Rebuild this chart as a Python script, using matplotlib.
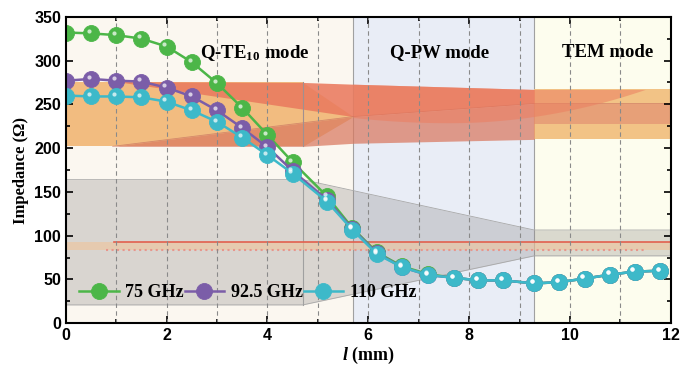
import matplotlib
matplotlib.use("Agg")
import matplotlib.pyplot as plt
import numpy as np
from matplotlib.transforms import offset_copy

plt.rcParams['mathtext.fontset'] = 'custom'
plt.rcParams['mathtext.rm'] = 'Liberation Serif:bold'
plt.rcParams['mathtext.it'] = 'Liberation Serif:italic:bold'
plt.rcParams['mathtext.bf'] = 'Liberation Serif:bold'

# data
length = [0, 0.5, 1, 1.5, 2, 2.5, 3, 3.5, 4, 4.5, 5.18, 5.68, 6.17, 6.67, 7.19,
          7.7, 8.18, 8.68, 9.29, 9.79, 10.29, 10.79, 11.28, 11.79]
z_75 = [332, 331, 329, 325, 316, 298, 274, 246, 215, 184, 145, 109, 81, 65, 56,
        52, 49, 49, 45.5, 47, 51, 55.5, 59, 60]
z_925 = [277, 279, 277, 276, 269, 259, 243, 223, 201, 174, 141, 108, 80, 64, 55,
         52, 49, 49, 45.5, 47, 51, 55.5, 59, 60]
z_110 = [260, 259, 259, 258, 253, 243, 230, 212, 192, 171, 139, 107, 79, 64, 55,
         52, 49, 49, 45.5, 47, 51, 55.5, 59, 60]
series = [("75 GHz", z_75, "#4CB648"), ("92.5 GHz", z_925, "#7B5DA8"),
          ("110 GHz", z_110, "#3DB9C9")]

regions = [(0, 5.7, "#FBF7F0", r"Q-TE$_{10}$ mode", 3.75),
           (5.7, 9.29, "#E9EDF6", "Q-PW mode", 7.42),
           (9.29, 12, "#FDFDEE", "TEM mode", 10.75)]

fig = plt.figure(figsize=(6.93, 3.68), dpi=100)
ax = fig.add_axes([0.095, 0.1215, 0.873, 0.833])

for x0, x1, c, lab, xt in regions:
    ax.axvspan(x0, x1, color=c, zorder=0, lw=0)
    ax.text(xt, 309, lab, ha='center', va='center', fontsize=13.5,
            fontfamily='Liberation Serif', fontweight='bold', zorder=6)
for xb in [5.7, 9.29]:
    ax.axvline(xb, color='#A0A0A0', lw=0.8, zorder=1)

# decorative schematic shapes (upper: impedance band, lower: gray taper)
ax.fill_between([0, 4.7], 202, 276, color='#F2BC80', lw=0, zorder=1)
ax.fill_between([4.7, 5.7], [202, 236], [275, 236], color='#F2BC80', lw=0, zorder=1)
ax.fill_between([1.0, 4.7, 5.7, 9.29], [276, 244.5, 236, 251], [276, 275, 273, 267],
                color='#EA7A5E', alpha=0.88, lw=0, zorder=1.2)
ax.fill_between([0.93, 4.7, 5.7, 9.29], [202, 202, 205.5, 210], [202, 228.8, 236, 251],
                color='#D9785F', alpha=0.72, lw=0, zorder=1.2)
ax.plot([0.93, 5.7, 9.29, 12], [202, 236, 251, 251], color='#C87060', lw=0.6, alpha=0.7, zorder=1.25)
ax.fill_between([9.29, 12], 210, 267, color='#F2C386', lw=0, zorder=1)
ax.fill_between([9.29, 12], 227.5, 250, color='#E08A70', alpha=0.6, lw=0, zorder=1.2)
cx = np.linspace(5.7, 11.49, 80)
cy = np.where(cx > 7.6, 229 + 38 * ((cx - 7.6) / 3.89) ** 2, 229 + 6 * ((7.6 - cx) / 1.9) ** 2)
ctop = np.where(cx < 9.29, 273 - 6 * (cx - 5.7) / 3.59, 267)
ax.fill_between(cx, np.minimum(cy, 267), ctop, color='#EC7E60', alpha=0.55, lw=0, zorder=1.3)
ax.plot([4.7, 4.7], [202, 275], color='#A09090', lw=0.8, zorder=1.4)

gray = (0.55, 0.53, 0.53)
ax.fill_between([0, 4.7, 9.29, 12], [21, 21, 77, 77], [164, 164, 106.5, 106.5],
                color=gray, alpha=0.3, lw=0, zorder=1)
ax.plot([0, 4.7, 9.29, 12], [164, 164, 106.5, 106.5], color='#A8A8A8', lw=0.6, zorder=1.1)
ax.plot([0, 4.7, 9.29, 12], [21, 21, 77, 77], color='#A8A8A8', lw=0.6, zorder=1.1)
ax.plot([4.7, 4.7], [21, 164], color='#A0A0A0', lw=0.8, zorder=1.1)
ax.fill_between([0, 12], 83.7, 93, color='#EFC39A', alpha=0.6, lw=0, zorder=1.5)
ax.plot([0.95, 12], [92.5, 92.5], color='#E2604E', lw=1.2, zorder=1.6)
ax.plot([0.79, 11.49], [84, 84], color='#E8968C', lw=1.5, ls=':', zorder=1.6)

# grid
for xg in range(1, 12):
    ax.axvline(xg, color='#8A8A8A', lw=0.8, ls=(0, (4, 3)), zorder=1.8)

hl = offset_copy(ax.transData, fig=fig, x=-1.6, y=1.6, units='points')
for lab, z, c in series:
    ax.plot(length, z, '-o', color=c, lw=1.8, ms=11.5, mec=c, mew=0.6,
            label=lab, zorder=3)
    ax.plot(length, z, 'o', color='white', ms=3, alpha=0.7, mew=0,
            transform=hl, zorder=3.1)

ax.set_xlim(0, 12)
ax.set_ylim(0, 350)
ax.set_xticks(range(0, 13, 2))
ax.set_xticks(range(0, 13), minor=True)
ax.set_yticks(range(0, 351, 50))
ax.set_yticks(range(0, 351, 25), minor=True)
ax.tick_params(which='both', direction='in', top=True, right=True, width=1.2)
ax.tick_params(which='major', length=5)
ax.tick_params(which='minor', length=3)
for t in ax.get_xticklabels() + ax.get_yticklabels():
    t.set_fontfamily('Liberation Sans')
    t.set_fontweight('bold')
    t.set_fontsize(11.5)
for s in ax.spines.values():
    s.set_linewidth(1.5)
    s.set_zorder(5)

ax.set_xlabel(r"$l$ (mm)", fontsize=13, fontfamily='Liberation Serif', fontweight='bold', labelpad=1)
ax.set_ylabel("Impedance (Ω)", fontsize=12, fontfamily='Liberation Serif', fontweight='bold', labelpad=4)

ax.legend(loc='lower left', bbox_to_anchor=(-0.005, 0.02), ncol=3, frameon=False,
          handlelength=2.2, handletextpad=0.35, columnspacing=0.05,
          prop={'family': 'Liberation Serif', 'weight': 'bold', 'size': 13})

fig.savefig("out.png", dpi=100)
